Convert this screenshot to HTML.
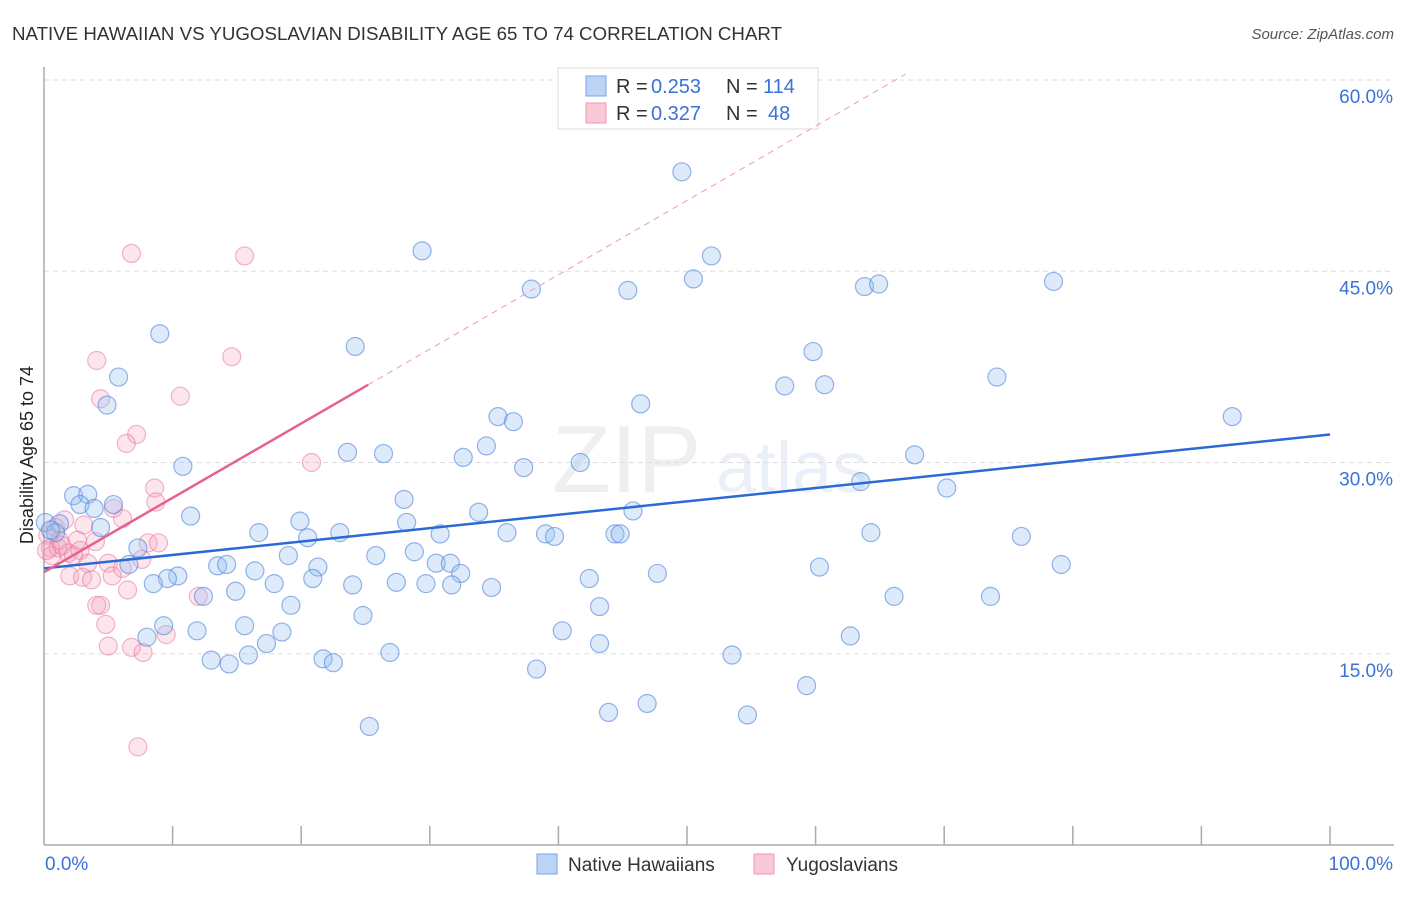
<!DOCTYPE html>
<html><head><meta charset="utf-8">
<style>
body{margin:0;background:#fff;font-family:"Liberation Sans",sans-serif;}
svg text{font-family:"Liberation Sans",sans-serif;}
</style></head>
<body>
<svg id="chart" width="1406" height="892" xmlns="http://www.w3.org/2000/svg">
<text x="12" y="40" font-size="18" fill="#333" textLength="770" lengthAdjust="spacingAndGlyphs">NATIVE HAWAIIAN VS YUGOSLAVIAN DISABILITY AGE 65 TO 74 CORRELATION CHART</text>
<text x="1394" y="39" font-size="15" fill="#555" text-anchor="end" font-style="italic">Source: ZipAtlas.com</text>
<g opacity="0.13">
<text x="552" y="492" font-size="96" font-family="Liberation Serif" fill="#888">ZIP</text>
<text x="716" y="492" font-size="72" fill="#6a8fd0">atlas</text>
</g>
<g id="grid"></g>
<g id="axes"></g>
<g id="trends"></g>
<g id="points"></g>
<text transform="translate(33,455) rotate(-90)" font-size="18" fill="#222" text-anchor="middle">Disability Age 65 to 74</text>
<g>
<rect x="558" y="68" width="260" height="61" fill="#fff" stroke="#ddd"/>
<rect x="586" y="76" width="20" height="20" fill="#bcd4f5" stroke="#7aa3e5"/>
<rect x="586" y="103" width="20" height="20" fill="#f9c8d8" stroke="#ec9ab5"/>
<text x="616" y="93" font-size="20" fill="#333">R =</text>
<text x="651" y="93" font-size="20" fill="#3a72d8">0.253</text>
<text x="726" y="93" font-size="20" fill="#333">N =</text>
<text x="763" y="93" font-size="20" fill="#3a72d8">114</text>
<text x="616" y="120" font-size="20" fill="#333">R =</text>
<text x="651" y="120" font-size="20" fill="#3a72d8">0.327</text>
<text x="726" y="120" font-size="20" fill="#333">N =</text>
<text x="768" y="120" font-size="20" fill="#3a72d8">48</text>
</g>
<g>
<rect x="537" y="854" width="20" height="20" fill="#bcd4f5" stroke="#7aa3e5"/>
<text x="568" y="871" font-size="19" fill="#333">Native Hawaiians</text>
<rect x="754" y="854" width="20" height="20" fill="#f9c8d8" stroke="#ec9ab5"/>
<text x="786" y="871" font-size="19" fill="#333">Yugoslavians</text>
</g>
</svg>
<script>
const yTicks=[15,30,45,60];
const yTickLabels=["15.0%","30.0%","45.0%","60.0%"];
const xTicks=[0,10,20,30,40,50,60,70,80,90,100];
const blueX=[49.6,29.4,51.9,50.5,37.9,45.4,63.8,64.9,78.5,9.0,24.2,59.8,5.8,57.6,60.7,74.1,4.9,46.4,35.3,36.5,92.4,34.4,23.6,26.4,32.6,10.8,37.3,41.7,67.7,63.5,70.2,2.3,3.4,28.0,5.4,2.8,3.9,11.4,33.8,45.8,19.9,28.2,1.2,4.4,0.1,16.7,23.0,36.0,39.0,39.7,44.4,44.8,64.3,76.0,0.9,0.5,20.5,30.8,7.3,19.0,25.8,28.8,30.5,31.6,13.5,14.2,16.4,21.3,6.6,10.4,9.6,20.9,32.4,42.4,47.7,60.3,79.1,8.5,17.9,24.0,27.4,29.7,31.7,34.8,14.9,12.4,19.2,43.2,66.1,73.6,24.8,15.6,9.3,11.9,18.5,8.0,40.3,17.3,43.2,62.7,13.0,14.4,15.9,21.7,22.5,26.9,53.5,38.3,59.3,25.3,43.9,46.9,54.7];
const blueY=[52.8,46.6,46.2,44.4,43.6,43.5,43.8,44.0,44.2,40.1,39.1,38.7,36.7,36.0,36.1,36.7,34.5,34.6,33.6,33.2,33.6,31.3,30.8,30.7,30.4,29.7,29.6,30.0,30.6,28.5,28.0,27.4,27.5,27.1,26.7,26.7,26.4,25.8,26.1,26.2,25.4,25.3,25.2,24.9,25.3,24.5,24.5,24.5,24.4,24.2,24.4,24.4,24.5,24.2,24.5,24.7,24.1,24.4,23.3,22.7,22.7,23.0,22.1,22.1,21.9,22.0,21.5,21.8,22.0,21.1,20.9,20.9,21.3,20.9,21.3,21.8,22.0,20.5,20.5,20.4,20.6,20.5,20.4,20.2,19.9,19.5,18.8,18.7,19.5,19.5,18.0,17.2,17.2,16.8,16.7,16.3,16.8,15.8,15.8,16.4,14.5,14.2,14.9,14.6,14.3,15.1,14.9,13.8,12.5,9.3,10.4,11.1,10.2];
const pinkX=[6.8,15.6,4.1,14.6,4.4,10.6,7.2,6.4,20.8,8.6,8.7,5.4,6.1,3.1,0.9,1.6,0.3,1.2,2.6,4.0,0.5,1.1,0.6,1.9,2.8,5.0,3.4,8.1,8.9,7.6,6.1,5.3,2.0,3.0,3.7,6.5,12.0,4.4,4.1,4.8,5.0,6.8,7.7,9.5,7.3,0.2,1.4,2.3];
const pinkY=[46.4,46.2,38.0,38.3,35.0,35.2,32.2,31.5,30.0,28.0,26.9,26.4,25.6,25.1,24.9,25.5,24.3,23.9,23.9,23.8,23.3,23.3,22.7,22.9,23.1,22.1,22.1,23.7,23.7,22.4,21.7,21.1,21.1,21.0,20.8,20.0,19.5,18.8,18.8,17.3,15.6,15.5,15.1,16.5,7.7,23.1,23.5,22.7];
const blueTrend=[21.7,32.2];
const pinkTrend=[21.4,0.583];
const pinkSolidEnd=25.2, pinkDashEnd=67;

const NS="http://www.w3.org/2000/svg";
const X0=44,X1=1330,Y0=845,PY=12.75;
const sx=v=>X0+(X1-X0)*v/100;
const sy=v=>Y0-v*PY;
function mk(tag,attrs,parent){const e=document.createElementNS(NS,tag);for(const k in attrs)e.setAttribute(k,attrs[k]);document.getElementById(parent).appendChild(e);return e;}

yTicks.forEach((t,i)=>{
  const l=mk('line',{x1:X0,x2:1394,y1:sy(t),y2:sy(t),stroke:'#ddd','stroke-dasharray':'5,4'},'grid');
  
  
  const tx=mk('text',{x:1393,y:sy(t)+23,'font-size':19,fill:'#3a72d8','text-anchor':'end'},'grid');
  tx.textContent=yTickLabels[i];
  
  
});
const ya=mk('line',{x1:X0,x2:X0,y1:67,y2:Y0,stroke:'#aaa','stroke-width':1.5},'axes');


const xa=mk('line',{x1:X0,x2:1394,y1:Y0,y2:Y0,stroke:'#aaa','stroke-width':1.5},'axes');


xTicks.forEach(t=>{if(t===0)return;
  const l=mk('line',{x1:sx(t),x2:sx(t),y1:826,y2:Y0,stroke:'#aaa','stroke-width':1.5},'axes');
  
  
});
const xl0=mk('text',{x:45,y:870,'font-size':19,fill:'#3a72d8'},'axes');xl0.textContent='0.0%';


const xl1=mk('text',{x:1393,y:870,'font-size':19,fill:'#3a72d8','text-anchor':'end'},'axes');xl1.textContent='100.0%';



pinkX.forEach((x,i)=>{
  const c=mk('circle',{cx:sx(x),cy:sy(pinkY[i]),r:9,fill:'rgba(244,160,190,0.28)',stroke:'rgba(232,120,160,0.55)','stroke-width':1.2},'points');
  
  
});
blueX.forEach((x,i)=>{
  const c=mk('circle',{cx:sx(x),cy:sy(blueY[i]),r:9,fill:'rgba(150,190,240,0.33)',stroke:'rgba(80,130,220,0.6)','stroke-width':1.2},'points');
  
  
});
const bt=mk('line',{x1:sx(0),y1:sy(blueTrend[0]),x2:sx(100),y2:sy(blueTrend[1]),stroke:'#2a6ad6','stroke-width':2.5},'trends');


const pd=mk('line',{x1:sx(pinkSolidEnd),y1:sy(pinkTrend[0]+pinkTrend[1]*pinkSolidEnd),x2:sx(pinkDashEnd),y2:sy(pinkTrend[0]+pinkTrend[1]*pinkDashEnd),stroke:'#ec9ab5','stroke-width':1,'stroke-dasharray':'6,5'},'trends');


const ps=mk('line',{x1:sx(0),y1:sy(pinkTrend[0]),x2:sx(pinkSolidEnd),y2:sy(pinkTrend[0]+pinkTrend[1]*pinkSolidEnd),stroke:'#e8608c','stroke-width':2.5},'trends');


document.getElementById('chart').appendChild(document.getElementById('trends'));
</script>
</body></html>
